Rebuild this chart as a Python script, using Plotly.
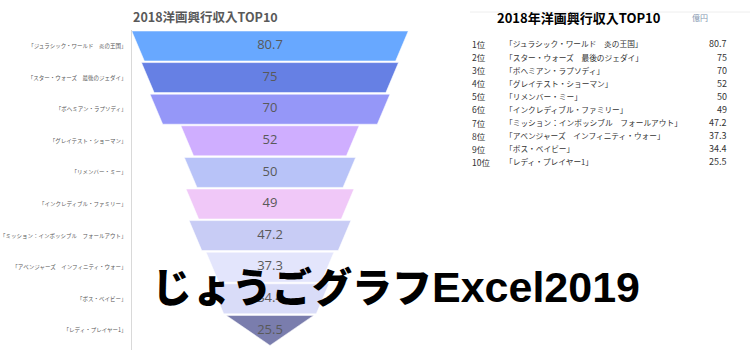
import plotly.graph_objects as go

# ---- data ----
titles = ["「ジュラシック・ワールド　炎の王国」", "「スター・ウォーズ　最後のジェダイ」",
          "「ボヘミアン・ラプソディ」", "「グレイテスト・ショーマン」", "「リメンバー・ミー」",
          "「インクレディブル・ファミリー」", "「ミッション：インポッシブル　フォールアウト」",
          "「アベンジャーズ　インフィニティ・ウォー」", "「ボス・ベイビー」", "「レディ・プレイヤー1」"]
values = [80.7, 75, 70, 52, 50, 49, 47.2, 37.3, 34.4, 25.5]
value_labels = ["80.7", "75", "70", "52", "50", "49", "47.2", "37.3", "34.4", "25.5"]
ranks = ["1位", "2位", "3位", "4位", "5位", "6位", "7位", "8位", "9位", "10位"]
chart_title = "2018洋画興行収入TOP10"
table_title = "2018年洋画興行収入TOP10"
unit_label = "億円"
overlay_jp = "じょうごグラフ"
overlay_en = "Excel2019"

# ---- styles ----
colors = ["#68a8ff", "#6680e4", "#9597f8", "#cfaeff", "#b8c3f8",
          "#f0c8f8", "#c8ccf5", "#e3e5fc", "#d9dcf8", "#7a7dad"]
slant = 3.7
half_h = 0.475
W, H = 750, 350
JP = "Noto Sans CJK JP"

fig = go.Figure()
n = len(values)
for i, v in enumerate(values):
    top = v / 2
    bot = 0 if i == n - 1 else top - slant
    xs = [-top, top, bot, -bot, -top]
    ys = [i - half_h, i - half_h, i + half_h, i + half_h, i - half_h]
    fig.add_trace(go.Scatter(x=xs, y=ys, mode="lines", fill="toself",
                             fillcolor=colors[i],
                             line=dict(color="rgba(255,255,255,0.55)", width=1),
                             hoverinfo="skip", showlegend=False))

fig.add_trace(go.Scatter(x=[0] * n, y=list(range(n)), mode="text", text=value_labels,
                         textposition="middle center",
                         textfont=dict(family="Open Sans", size=13, color="#595959"),
                         hoverinfo="skip", showlegend=False))

x_left, x_right = 131.7, 408.3
fig.update_xaxes(range=[-values[0] / 2, values[0] / 2], domain=[x_left / W, x_right / W],
                 visible=False, fixedrange=True)
fig.update_yaxes(range=[9.62, -0.5], domain=[0, 1 - 30.2 / H],
                 tickmode="array", tickvals=list(range(n)), ticktext=titles,
                 tickfont=dict(family=JP, size=5.5, color="#595959"),
                 showline=True, linecolor="#d9d9d9", linewidth=1,
                 showgrid=False, zeroline=False, ticks="", ticklabelstandoff=3)

ann = []
ann.append(dict(x=205 / W, y=1 - 16.7 / H, xref="paper", yref="paper", text="<b>" + chart_title + "</b>",
                showarrow=False, xanchor="center", yanchor="middle",
                font=dict(family=JP, size=12.5, color="#595959")))
ann.append(dict(x=579 / W, y=1 - 18 / H, xref="paper", yref="paper", text="<b>" + table_title + "</b>",
                showarrow=False, xanchor="center", yanchor="middle",
                font=dict(family=JP, size=13, color="#000000")))
ann.append(dict(x=700 / W, y=1 - 18 / H, xref="paper", yref="paper", text=unit_label,
                showarrow=False, xanchor="center", yanchor="middle",
                font=dict(family=JP, size=8, color="#8496b0")))
row0, pitch = 44.0, 13.1
for i in range(n):
    yy = 1 - (row0 + pitch * i) / H
    ann.append(dict(x=470 / W, y=yy, xref="paper", yref="paper", text=ranks[i], showarrow=False,
                    xanchor="left", yanchor="middle", font=dict(family=JP, size=8.5, color="#333333")))
    ann.append(dict(x=503 / W, y=yy, xref="paper", yref="paper", text=titles[i], showarrow=False,
                    xanchor="left", yanchor="middle", font=dict(family=JP, size=7.7, color="#333333")))
    ann.append(dict(x=729 / W, y=yy, xref="paper", yref="paper", text=value_labels[i], showarrow=False,
                    xanchor="right", yanchor="middle", font=dict(family=JP, size=9, color="#333333")))

ann.append(dict(x=150 / W, y=1 - 285 / H, xref="paper", yref="paper",
                text=overlay_jp + "<span style='font-family:Liberation Sans;font-size:43px'>"
                + overlay_en + "</span>",
                showarrow=False, xanchor="left", yanchor="middle",
                font=dict(family=JP, size=40, color="#000000", weight=900)))

fig.update_layout(
    width=W, height=H, margin=dict(l=0, r=0, t=0, b=0),
    paper_bgcolor="#ffffff", plot_bgcolor="#ffffff",
    annotations=ann,
    shapes=[dict(type="line", xref="paper", yref="paper", x0=470 / W, x1=1, y0=1 - 12 / H, y1=1 - 12 / H,
                 line=dict(color="#eeeeee", width=1))],
)

fig.write_html("out.html")
